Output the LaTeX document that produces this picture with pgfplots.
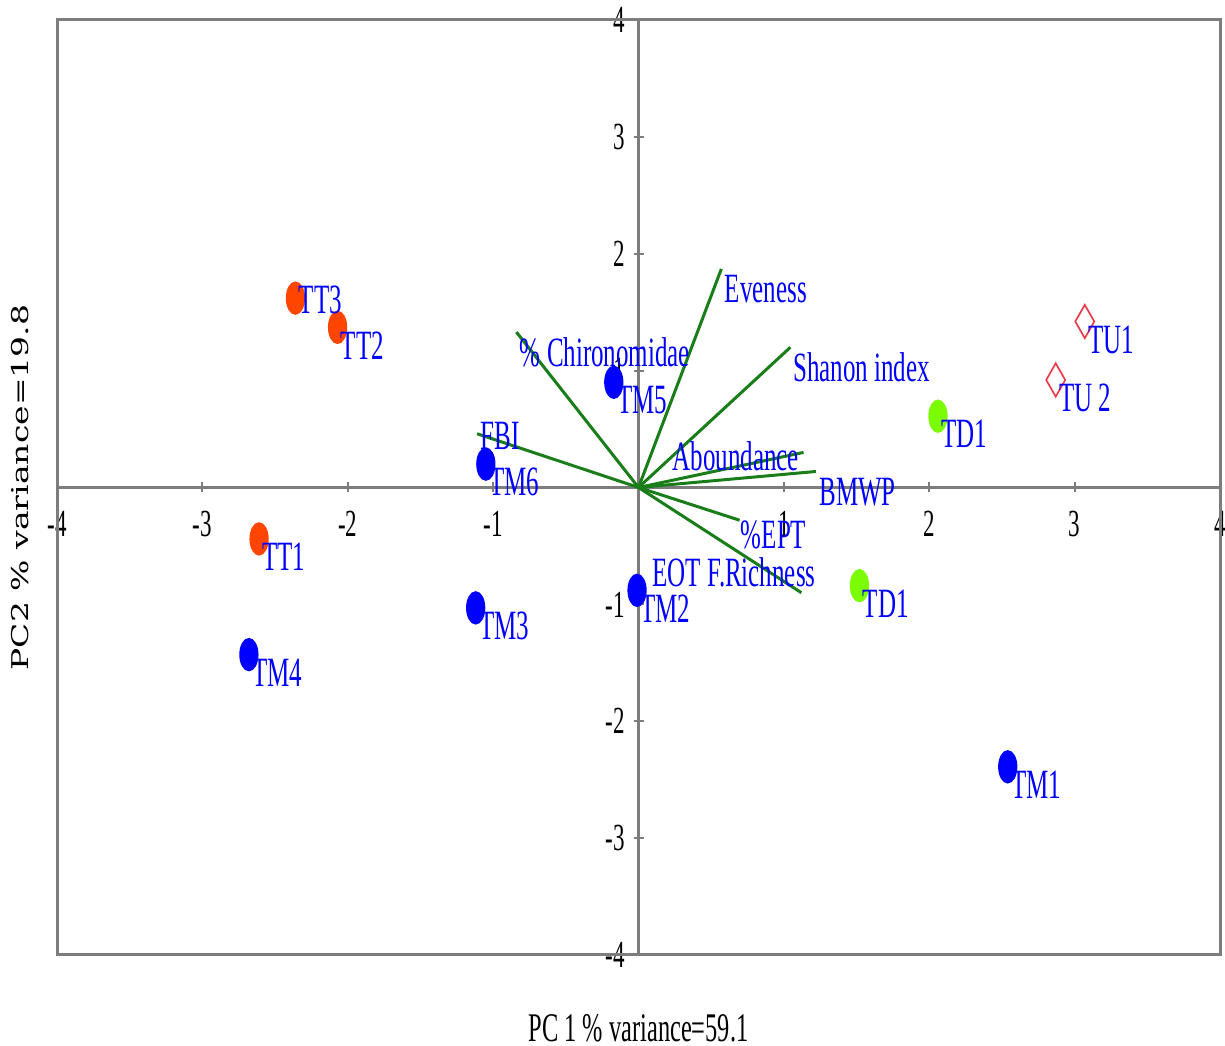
\documentclass[border=0pt]{standalone}
\usepackage{fontspec}
\setmainfont[FakeStretch=0.6]{Liberation Serif}
\newfontfamily\ylabfont{DejaVu Serif}
\usepackage{graphicx}
\usepackage{pgfplots}
\pgfplotsset{compat=1.18}
\definecolor{ptblue}{RGB}{0,0,255}
\definecolor{ptorange}{RGB}{255,69,0}
\definecolor{ptgreen}{RGB}{124,252,0}
\definecolor{vecgreen}{RGB}{25,125,25}
\definecolor{dred}{RGB}{232,60,72}
\definecolor{axgray}{RGB}{125,125,125}
\newcommand{\labfont}{\fontsize{12.5}{14}\selectfont}
\begin{document}
\begin{tikzpicture}
\begin{axis}[
  scale only axis, width=348.9pt, height=280.5pt,
  xmin=-4, xmax=4, ymin=-4, ymax=4,
  axis lines=middle,
  axis line style={draw=axgray, line width=0.9pt, -},
  xtick={-4,-3,-2,-1,1,2,3,4}, ytick={-4,-3,-2,-1,1,2,3,4},
  tick style={draw=axgray, line width=0.6pt},
  major tick length=3pt,
  tick label style={font=\fontsize{11.5}{12}\selectfont, text=black},
  xticklabel style={yshift=-2pt},
  yticklabel style={xshift=1pt},
  /pgf/number format/assume math mode=true,
  clip=false,
  nodes near coords,
  point meta=explicit symbolic,
  nodes near coords style={anchor=west, inner sep=0pt, xshift=0.8pt, yshift=-5.4pt, text=ptblue, font=\labfont},
]
\coordinate (SW) at (rel axis cs:0,0);
\coordinate (NE) at (rel axis cs:1,1);
\draw[axgray, line width=0.9pt] (rel axis cs:0,0) rectangle (rel axis cs:1,1);

% loading vectors
\addplot[vecgreen, line width=0.9pt, no marks, nodes near coords={}] coordinates {(0,0) (0.57,1.87)};
\addplot[vecgreen, line width=0.9pt, no marks, nodes near coords={}] coordinates {(0,0) (1.045,1.20)};
\addplot[vecgreen, line width=0.9pt, no marks, nodes near coords={}] coordinates {(0,0) (-0.84,1.33)};
\addplot[vecgreen, line width=0.9pt, no marks, nodes near coords={}] coordinates {(0,0) (-1.11,0.46)};
\addplot[vecgreen, line width=0.9pt, no marks, nodes near coords={}] coordinates {(0,0) (1.135,0.30)};
\addplot[vecgreen, line width=0.9pt, no marks, nodes near coords={}] coordinates {(0,0) (1.22,0.137)};
\addplot[vecgreen, line width=0.9pt, no marks, nodes near coords={}] coordinates {(0,0) (0.695,-0.28)};
\addplot[vecgreen, line width=0.9pt, no marks, nodes near coords={}] coordinates {(0,0) (1.12,-0.90)};

% vector labels
\node[anchor=west, inner sep=0pt, text=ptblue, font=\labfont] at (axis cs:0.59,1.70) {Eveness};
\node[anchor=west, inner sep=0pt, text=ptblue, font=\labfont] at (axis cs:-0.82,1.155) {\% Chironomidae};
\node[anchor=west, inner sep=0pt, text=ptblue, font=\labfont] at (axis cs:1.06,1.03) {Shanon index};
\node[anchor=west, inner sep=0pt, text=ptblue, font=\labfont] at (axis cs:-1.09,0.44) {FBI};
\node[anchor=west, inner sep=0pt, text=ptblue, font=\labfont] at (axis cs:0.23,0.265) {Aboundance};
\node[anchor=west, inner sep=0pt, text=ptblue, font=\labfont] at (axis cs:1.24,-0.04) {BMWP};
\node[anchor=west, inner sep=0pt, text=ptblue, font=\labfont] at (axis cs:0.70,-0.41) {\%EPT};
\node[anchor=west, inner sep=0pt, text=ptblue, font=\labfont] at (axis cs:0.09,-0.73) {EOT F.Richness};

% sites
\addplot[only marks, mark=*, mark size=4.8pt, mark options={xscale=0.56, fill=ptorange, draw=ptorange}]
  table[row sep=\\, col sep=comma, meta=label] {x,y,label\\ -2.07,1.37,TT2\\ -2.61,-0.44,TT1\\};
\addplot[only marks, mark=*, mark size=4.8pt, mark options={xscale=0.56, fill=ptorange, draw=ptorange},
  nodes near coords style={yshift=4.8pt}]
  table[row sep=\\, col sep=comma, meta=label] {x,y,label\\ -2.36,1.62,TT3\\};
\addplot[only marks, mark=*, mark size=4.8pt, mark options={xscale=0.56, fill=ptblue, draw=ptblue}]
  table[row sep=\\, col sep=comma, meta=label] {x,y,label\\ -2.68,-1.43,TM4\\ -1.12,-1.03,TM3\\ -1.05,0.20,TM6\\ -0.17,0.90,TM5\\ -0.01,-0.88,TM2\\ 2.54,-2.39,TM1\\};
\addplot[only marks, mark=*, mark size=4.8pt, mark options={xscale=0.56, fill=ptgreen, draw=ptgreen}]
  table[row sep=\\, col sep=comma, meta=label] {x,y,label\\ 2.06,0.61,TD1\\ 1.52,-0.84,TD1\\};
\addplot[only marks, mark=diamond, mark size=5pt, mark options={xscale=0.76, draw=dred, fill=none, line width=0.5pt}]
  table[row sep=\\, col sep=comma, meta=label] {x,y,label\\ 3.07,1.42,TU1\\ 2.87,0.92,TU 2\\};

% axis titles
\node[font=\fontsize{12.2}{14}\selectfont] at ([yshift=-21.9pt]rel axis cs:0.5,0) {PC 1 \% variance=59.1};
\node[rotate=90] at ([xshift=-11.1pt]rel axis cs:0,0.5) {\scalebox{1}[0.7]{\fontsize{9.9}{12}\ylabfont PC2 \% variance=19.8}};
\end{axis}
\pgfresetboundingbox
\path ([shift={(-17.1pt,-27.3pt)}]SW) rectangle ([shift={(1.5pt,6pt)}]NE);
\end{tikzpicture}
\end{document}
